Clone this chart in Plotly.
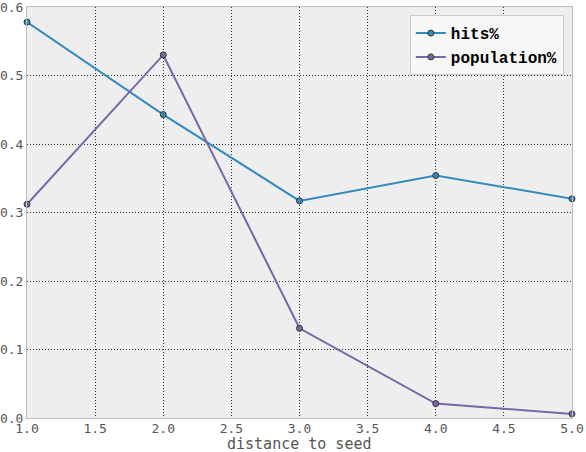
import plotly.graph_objects as go

# distance to seed
distance = [1.0, 2.0, 3.0, 4.0, 5.0]
hits_pct = [0.578, 0.443, 0.317, 0.354, 0.320]
population_pct = [0.312, 0.530, 0.131, 0.021, 0.006]

x_ticks = [1.0, 1.5, 2.0, 2.5, 3.0, 3.5, 4.0, 4.5, 5.0]
y_ticks = [0.0, 0.1, 0.2, 0.3, 0.4, 0.5, 0.6]

mono = "DejaVu Sans Mono, monospace"
legend_font = "Liberation Mono, Courier New, monospace"

fig = go.Figure()

# Line plot for each series
fig.add_trace(go.Scatter(
    x=distance, y=hits_pct, mode='lines+markers', name='hits%',
    line=dict(color='#348ABD', width=2),
    marker=dict(size=6, color='#348ABD', line=dict(color='#333333', width=1)),
    cliponaxis=False,
))
fig.add_trace(go.Scatter(
    x=distance, y=population_pct, mode='lines+markers', name='population%',
    line=dict(color='#7A68A6', width=2),
    marker=dict(size=6, color='#7A68A6', line=dict(color='#333333', width=1)),
    cliponaxis=False,
))

axis_style = dict(
    showgrid=True, gridcolor='#333333', griddash='1px,2px', gridwidth=1,
    showline=True, linecolor='#bcbcbc', linewidth=1, mirror=True,
    zeroline=False, ticks='', ticklen=0, automargin=False,
    ticklabeloverflow='allow',
    tickfont=dict(family=mono, size=13, color='#555555'),
)

fig.update_layout(
    width=586, height=452,
    margin=dict(l=27, r=14, t=7, b=34),
    paper_bgcolor='white', plot_bgcolor='#eeeeee',
    xaxis=dict(range=[1.0, 5.0], tickvals=x_ticks, tickformat='.1f',
               ticklabelstandoff=-2, **axis_style),
    yaxis=dict(range=[0.0, 0.6], tickvals=y_ticks, tickformat='.1f', **axis_style),
    legend=dict(x=0.985, y=0.98, xanchor='right', yanchor='top',
                bgcolor='#f7f7f7', bordercolor='#cccccc', borderwidth=1,
                font=dict(family=legend_font, size=16, color='black', weight='bold')),
    showlegend=True,
)

# x axis title placed under the tick labels
fig.add_annotation(
    text='distance to seed', x=0.5, y=0, xref='paper', yref='paper',
    xanchor='center', yanchor='top', yshift=-16, showarrow=False, borderpad=0,
    font=dict(family=mono, size=15, color='#555555'),
)

fig.write_html("out.html", config={'displayModeBar': False},
               post_script="document.body.style.margin='0px';")
